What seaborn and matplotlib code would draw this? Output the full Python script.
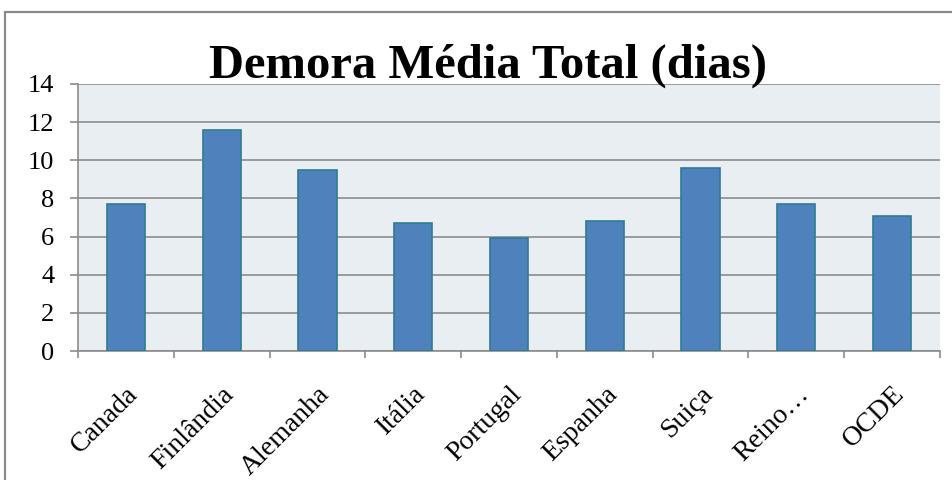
import matplotlib
matplotlib.use("Agg")
import matplotlib.pyplot as plt
import seaborn as sns
import pandas as pd
from matplotlib.patches import Rectangle

# Average total length of stay (days) per country
paises = ["Canada", "Finlândia", "Alemanha", "Itália", "Portugal",
          "Espanha", "Suiça", "Reino…", "OCDE"]
demora = [7.7, 11.6, 9.5, 6.7, 5.9, 6.8, 9.6, 7.7, 7.1]
y_ticks = [0, 2, 4, 6, 8, 10, 12, 14]
titulo = "Demora Média Total (dias)"

df = pd.DataFrame({"pais": paises, "demora": demora})

sns.set_theme(style="white")
plt.rcParams["font.family"] = ["Liberation Serif", "DejaVu Serif"]

fig = plt.figure(figsize=(9.53, 4.80), dpi=100)
ax = fig.add_axes([78 / 953, 1 - 351 / 480, (940 - 78) / 953, (351 - 84) / 480])

# outer chart frame
fig.patches.append(Rectangle((5 / 953, -0.1), 1.2, 1 - 12 / 480 + 0.1,
                             transform=fig.transFigure, fill=False,
                             edgecolor="#8a8a8a", linewidth=1.6, zorder=0))

ax.set_facecolor("#e8eef2")
sns.barplot(data=df, x="pais", y="demora", ax=ax, width=0.4,
            color="#4f81bd", edgecolor="#2e7c93", linewidth=1.2,
            saturation=1, zorder=3)

ax.set_ylim(0, 14)
ax.set_xlim(-0.5, len(paises) - 0.5)
ax.set_yticks(y_ticks)
ax.set_yticklabels([str(t) for t in y_ticks], fontsize=19, color="black")
ax.yaxis.grid(True, color="#8c8c8c", linewidth=1.2, zorder=1)
ax.set_axisbelow(True)

# category ticks sit on the boundaries between bars
ax.set_xticks(range(len(paises)))
ax.set_xticklabels(paises, rotation=45, ha="right", rotation_mode="anchor",
                   fontsize=20, color="black")
ax.set_xticks([i - 0.5 for i in range(len(paises) + 1)], minor=True)
ax.tick_params(axis="x", which="major", length=0, pad=22)
ax.tick_params(axis="x", which="minor", length=5, width=1.2, color="#8c8c8c",
               direction="out", bottom=True)
ax.tick_params(axis="y", length=6, width=1.2, color="#8c8c8c",
               direction="out", left=True, pad=11)

for s in ["top", "right"]:
    ax.spines[s].set_visible(False)
for s in ["left", "bottom"]:
    ax.spines[s].set_color("#8c8c8c")
    ax.spines[s].set_linewidth(1.2)

ax.set_xlabel("")
ax.set_ylabel("")

fig.text(488 / 953, 1 - 78 / 480, titulo, ha="center", va="baseline",
         fontsize=35, fontweight="bold", color="black")

fig.savefig("out.png", dpi=100, facecolor="white")
